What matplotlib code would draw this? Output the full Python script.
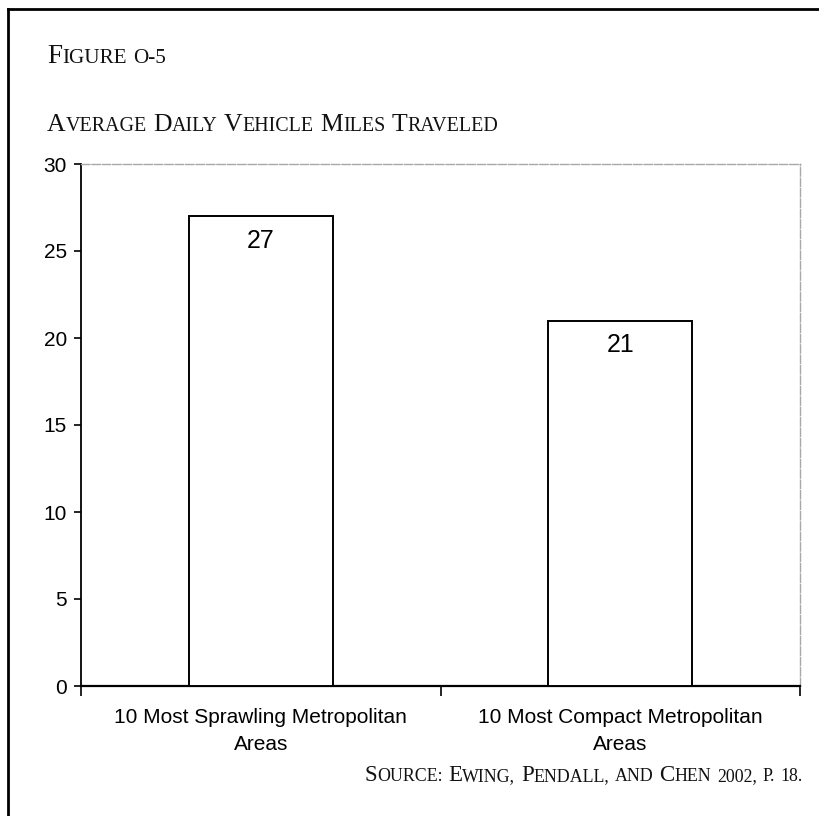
import matplotlib
matplotlib.use("Agg")
import matplotlib.pyplot as plt
from matplotlib.lines import Line2D

# Data
categories = ["10 Most Sprawling Metropolitan\nAreas",
              "10 Most Compact Metropolitan\nAreas"]
vmt = [27, 21]
y_ticks = [0, 5, 10, 15, 20, 25, 30]

figure_label = "Figure o-5"
chart_title = "Average Daily Vehicle Miles Traveled"
source_note = "Source: Ewing, Pendall, and Chen 2002, p. 18."

W, H = 819, 816
SERIF = "Liberation Serif"
SANS = "Liberation Sans"

fig = plt.figure(figsize=(W / 100, H / 100), dpi=100)
fig.patch.set_facecolor("white")

ax = fig.add_axes([81 / W, 1 - 686 / H, (800 - 81) / W, (686 - 164) / H])
xpos = list(range(len(categories)))
bars = ax.bar(xpos, vmt, width=0.4, color="white", edgecolor="black",
              linewidth=1.4, zorder=3)

ax.set_xlim(-0.5, 1.5)
ax.set_ylim(0, 30)
ax.set_yticks(y_ticks)
ax.set_xticks(xpos)
ax.set_xticklabels(categories, fontsize=15, family=SANS, linespacing=1.5)
ax.tick_params(axis="x", which="major", length=0, pad=16)
ax.set_xticks([-0.5, 0.5, 1.5], minor=True)
ax.tick_params(axis="x", which="minor", length=7, width=1.2, direction="out")
ax.tick_params(axis="y", length=5, width=1.2, labelsize=15, pad=5)
for lab in ax.get_yticklabels():
    lab.set_family(SANS)

ax.spines["left"].set_linewidth(1.3)
ax.spines["bottom"].set_linewidth(1.6)
for side in ("top", "right"):
    ax.spines[side].set_color("#a8a8a8")
    ax.spines[side].set_linewidth(1.0)
    ax.spines[side].set_linestyle((0, (6, 1.5)))

for rect, v in zip(bars, vmt):
    ax.annotate(f"{v}", xy=(rect.get_x() + rect.get_width() / 2, v),
                xytext=(0, -9), textcoords="offset points",
                ha="center", va="top", fontsize=18, family=SANS, zorder=4)

# Page frame
fig.add_artist(Line2D([8 / W, 8 / W], [0, 1 - 9 / H], transform=fig.transFigure,
                      color="black", lw=2))
fig.add_artist(Line2D([8 / W, 1], [1 - 9 / H, 1 - 9 / H], transform=fig.transFigure,
                      color="black", lw=2))

renderer = fig.canvas.get_renderer()


def small_caps(x_px, base_px, text, size, ratio=0.78, ha="left"):
    """Draw text in small capitals starting at pixel x, baseline pixel y (from top)."""
    runs = []
    for ch in text:
        if ch == " ":
            kind = "space"
        else:
            kind = "big" if ch.isupper() else "small"
        if runs and runs[-1][0] == kind:
            runs[-1][1] += ch
        else:
            runs.append([kind, ch])

    def layout(draw, x0):
        x = x0
        for kind, s in runs:
            fs = size if kind == "big" else size * ratio
            if kind == "space":
                x += len(s) * size * 0.25 * 100 / 72
                continue
            t = fig.text(x / W, 1 - base_px / H, s.upper(), fontsize=fs,
                         family=SERIF, va="baseline", ha="left", color="#111111")
            x += t.get_window_extent(renderer).width
            if not draw:
                t.remove()
        return x

    if ha == "right":
        width = layout(False, 0)
        layout(True, x_px - width)
    else:
        layout(True, x_px)


small_caps(47, 63, figure_label, 19.5)
small_caps(47, 131, chart_title, 18.5)
small_caps(803, 781, source_note, 16.5, ha="right")

fig.savefig("out.png", dpi=100)
